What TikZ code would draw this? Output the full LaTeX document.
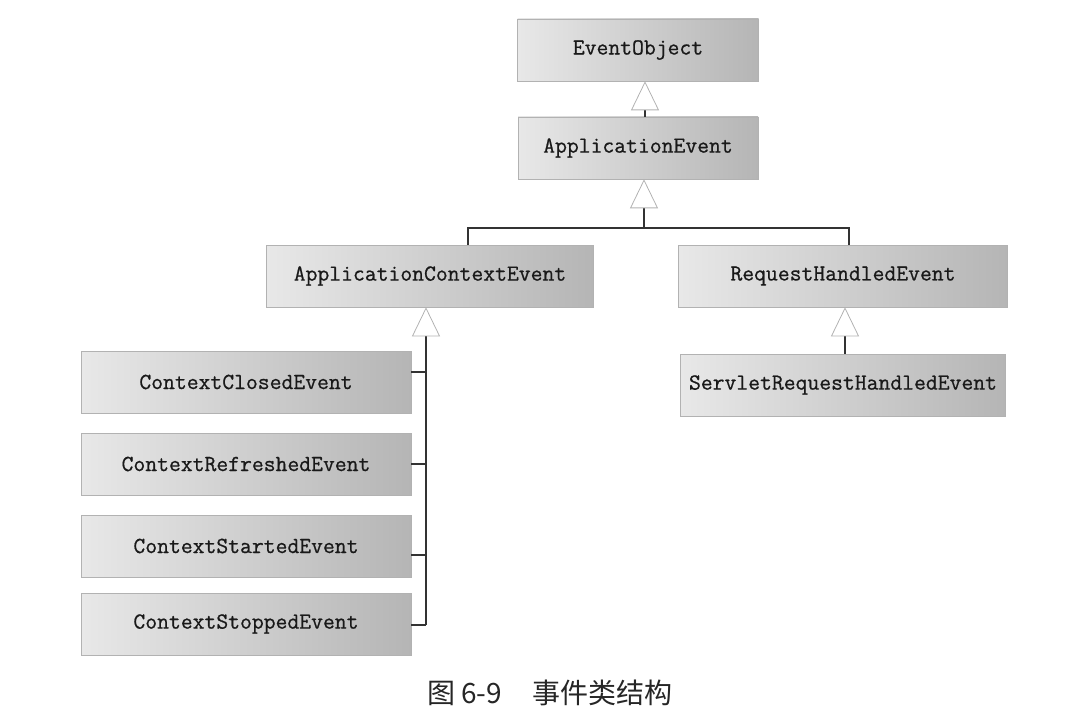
\documentclass[tikz,border=0pt]{standalone}
\usepackage{fontspec}
\newfontfamily\cjk{Noto Sans CJK SC}
\newfontfamily\clsfont[FakeBold=0.7]{Latin Modern Mono}
\usepackage{tikz}
\usetikzlibrary{arrows.meta}
\tikzset{
	cls/.style     = {draw=gray!60, line width=0.6pt, left color=gray!18, right color=gray!58, rectangle, minimum height=62pt, inner sep=0pt, text=black!90, font=\clsfont\fontsize{23}{27}\selectfont},
	link/.style    = {draw=black!80, line width=1.6pt},
	inherit/.style = {link, -{Triangle[open, length=29pt, width=28pt, line width=0.8pt, color=gray!60]}},
	hidden/.style  = {coordinate},
}
\begin{document}
\begin{tikzpicture}[x=1pt, y=-1pt]
		\useasboundingbox (0,0) rectangle (1084,722);
		% Draw the upper classes
		\draw
			node[cls, minimum width=241pt] (eventobj) at (638,50) {EventObject}
			node[cls, minimum width=240pt, below of = eventobj, node distance = 98pt] (appevent) {ApplicationEvent};

		% Draw the two subclasses and their children
		\draw
			node[cls, minimum width=327pt] (ctxevent) at (430,276) {ApplicationContextEvent}
			node[cls, minimum width=329pt, right of = ctxevent, node distance = 413pt] (reqevent) {RequestHandledEvent}
			node[cls, minimum width=325pt, below of = reqevent, node distance = 109pt] (servletevent) {ServletRequestHandledEvent};

		\draw
			node[cls, minimum width=330pt] (closedevent) at (246,382) {ContextClosedEvent}
			node[cls, minimum width=330pt, below of = closedevent   , node distance = 82pt] (refreshedevent) {ContextRefreshedEvent}
			node[cls, minimum width=330pt, below of = refreshedevent, node distance = 82pt] (startedevent) {ContextStartedEvent}
			node[cls, minimum width=330pt, below of = startedevent  , node distance = 78pt] (stoppedevent) {ContextStoppedEvent};

		\node[hidden] (split) at (644,228) {};
		\node[hidden] (ctxbus) at (426,625) {};

		% Connect everything together
		\draw[inherit] ([xshift=7pt]appevent.north) -- ([xshift=7pt]eventobj.south);
		\draw[inherit] (split) -- (split |- appevent.south);
		\draw[link] ([xshift=38pt]ctxevent.north) |- (split) -| ([xshift=6pt]reqevent.north);
		\draw[inherit] ([xshift=2pt]servletevent.north) -- ([xshift=2pt]reqevent.south);

		\draw[inherit] (ctxbus) -- (ctxbus |- ctxevent.south);
		\draw[link] ([yshift=10pt]closedevent.east) -- ++(15,0);
		\draw[link] (refreshedevent.east) -- (refreshedevent.east -| ctxbus);
		\draw[link] ([yshift=-9pt]startedevent.east) -- ++(16,0);
		\draw[link] ([yshift=-1pt]stoppedevent.east) -| (ctxbus);

		% Caption
		\node[font=\cjk\fontsize{28}{32}\selectfont, text=black!85] (caption) at (550,693) {图 6-9\hspace{1.1em}事件类结构};
	\end{tikzpicture}
\end{document}
